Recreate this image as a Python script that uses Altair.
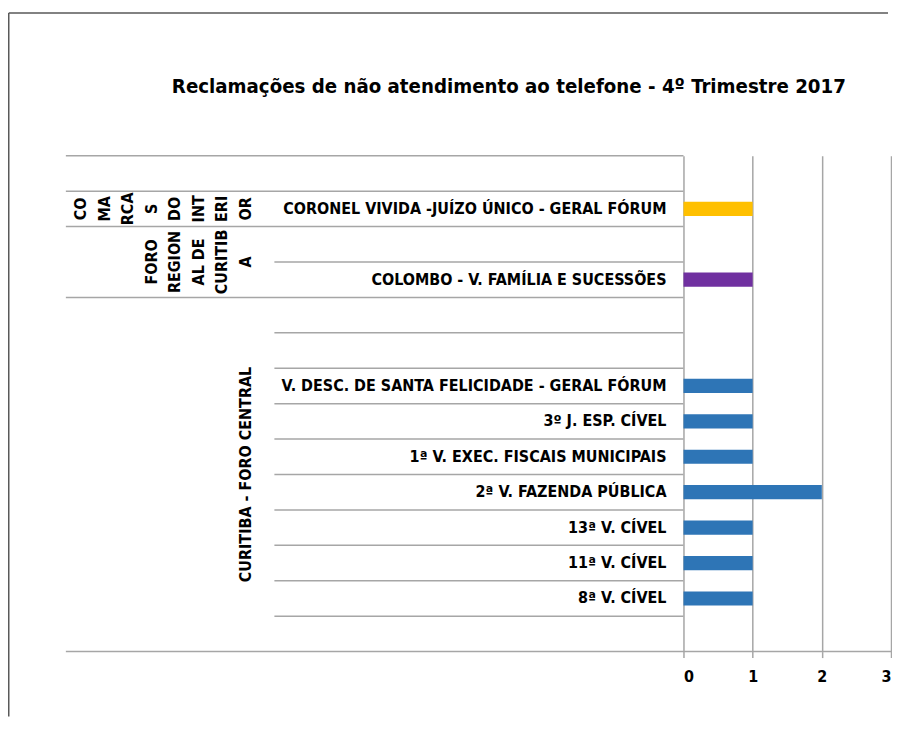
import altair as alt
import pandas as pd

# ---------------- data ----------------
title_text = "Reclamações de não atendimento ao telefone - 4º Trimestre 2017"

categories = [
    "",
    "CORONEL VIVIDA -JUÍZO ÚNICO - GERAL FÓRUM",
    "",
    "COLOMBO - V. FAMÍLIA E SUCESSÕES",
    "",
    "",
    "V. DESC. DE SANTA FELICIDADE - GERAL FÓRUM",
    "3º J. ESP. CÍVEL",
    "1ª V. EXEC. FISCAIS MUNICIPAIS",
    "2ª V. FAZENDA PÚBLICA",
    "13ª V. CÍVEL",
    "11ª V. CÍVEL",
    "8ª V. CÍVEL",
    "",
]
values = [None, 1, None, 1, None, None, 1, 1, 1, 2, 1, 1, 1, None]
groups = (["", "COMARCAS DO INTERIOR"]
          + ["FORO REGIONAL DE CURITIBA"] * 2
          + ["CURITIBA - FORO CENTRAL"] * 10)

group_names = ["COMARCAS DO INTERIOR", "FORO REGIONAL DE CURITIBA", "CURITIBA - FORO CENTRAL"]
group_label_lines = ["CO|MA|RCA|S|DO|INT|ERI|OR", "FORO|REGION|AL DE|CURITIB|A", "CURITIBA - FORO CENTRAL"]
group_colors = ["#FFC000", "#7030A0", "#2E75B6"]
x_ticks = [0, 1, 2, 3]

# ---------------- tables ----------------
n_rows = len(categories)
rows = pd.DataFrame({"row": list(range(n_rows)), "label": categories,
                     "value": values, "group": groups})

bounds = pd.DataFrame({
    "b": list(range(n_rows)),
    "full": [b == 0 or groups[b] != groups[b - 1] for b in range(n_rows)],
})

FONT = "DejaVu Sans Condensed, DejaVu Sans, sans-serif"
W, H = 827, 497
AXIS_X = 619          # pixel position of value 0 inside the plot area
LINE_COLOR = "#A6A6A6"

x_scale = alt.Scale(domain=[0, 3], range=[AXIS_X, W], nice=False, zero=False)
y_scale = alt.Scale(domain=[0, n_rows], reverse=True, nice=False, zero=False)

# bars
bars = alt.Chart(rows).transform_filter("isValid(datum.value)").transform_calculate(
    x0="0", y1="datum.row + 0.3", y2="datum.row + 0.7"
).mark_rect().encode(
    x=alt.X("x0:Q", scale=x_scale,
            axis=alt.Axis(values=x_ticks, format="d", title=None, grid=True,
                          gridColor=LINE_COLOR, gridWidth=1.5, domain=False,
                          ticks=True, tickColor=LINE_COLOR, tickWidth=1.5, tickSize=6,
                          labelFont=FONT, labelFontSize=16, labelFontWeight="bold",
                          labelColor="black", labelPadding=11)),
    x2="value:Q",
    y=alt.Y("y1:Q", scale=y_scale, axis=None),
    y2="y2:Q",
    color=alt.Color("group:N", scale=alt.Scale(domain=group_names, range=group_colors), legend=None),
)

# category labels (level 1)
labels = alt.Chart(rows).transform_filter("datum.label != ''").transform_calculate(
    yc="datum.row + 0.5"
).mark_text(align="right", baseline="middle", font=FONT, fontSize=16,
            fontWeight="bold", color="black").encode(
    x=alt.value(602),
    y=alt.Y("yc:Q", scale=y_scale, axis=None),
    text="label:N",
)

# separator lines
full_lines = alt.Chart(bounds).transform_filter("datum.full").mark_rule(
    color=LINE_COLOR, strokeWidth=1.5).encode(
    x=alt.value(0), x2=alt.value(AXIS_X),
    y=alt.Y("b:Q", scale=y_scale, axis=None),
)
part_lines = alt.Chart(bounds).transform_filter("!datum.full").mark_rule(
    color=LINE_COLOR, strokeWidth=1.5).encode(
    x=alt.value(209), x2=alt.value(AXIS_X),
    y=alt.Y("b:Q", scale=y_scale, axis=None),
)
bottom_line = alt.Chart(pd.DataFrame({"a": [0]})).mark_rule(
    color=LINE_COLOR, strokeWidth=1.5).encode(
    x=alt.value(0), x2=alt.value(W), y=alt.value(H))

# group labels (level 2), rotated, multi-line
GFS, GLH = 16, 23.5
group_layers = []
for name, lines in zip(group_names, group_label_lines):
    idx = [i for i, g in enumerate(groups) if g == name]
    start, end = idx[0], idx[-1] + 1
    n_lines = len(lines.split("|"))
    px = 245 - 66 - (n_lines - 1) * GLH - 0.43 * GFS
    gdf = pd.DataFrame({"t": [lines], "yc": [(start + end) / 2]})
    group_layers.append(
        alt.Chart(gdf).mark_text(angle=270, align="center", baseline="top",
                                 lineBreak="|", lineHeight=GLH, font=FONT,
                                 fontSize=GFS, fontWeight="bold", color="black").encode(
            x=alt.value(px),
            y=alt.Y("yc:Q", scale=y_scale, axis=None),
            text="t:N",
        )
    )

# title
title = alt.Chart(pd.DataFrame({"t": [title_text]})).mark_text(
    align="center", baseline="alphabetic", font=FONT, fontSize=20.3,
    fontWeight="bold", color="black").encode(
    x=alt.value(444), y=alt.value(-63), text="t:N")

# outer frame
one = pd.DataFrame({"a": [0]})
frame_top = alt.Chart(one).mark_rule(color="#595959", strokeWidth=1.5).encode(
    x=alt.value(-57.25), x2=alt.value(824), y=alt.value(-143))
frame_left = alt.Chart(one).mark_rule(color="#595959", strokeWidth=1.5).encode(
    x=alt.value(-57.25), y=alt.value(-143), y2=alt.value(562))

chart = alt.layer(
    full_lines, part_lines, bottom_line, bars, labels, *group_layers, title,
    frame_top, frame_left
).properties(
    width=W, height=H,
    padding={"left": 0, "top": 3.25, "right": 0, "bottom": 0},
    background="white",
).configure_view(stroke=None)

chart.save("out.html", embed_options={"renderer": "svg", "actions": False})
